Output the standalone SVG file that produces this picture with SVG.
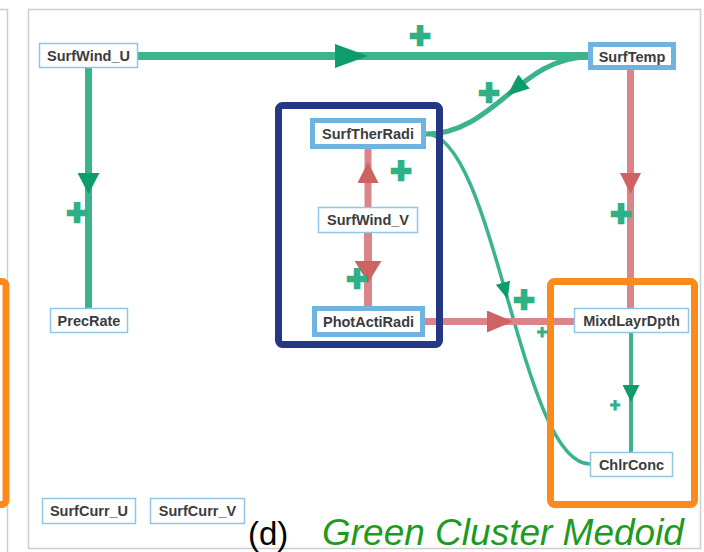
<svg xmlns="http://www.w3.org/2000/svg" width="704" height="552" viewBox="0 0 704 552">
<style>
.frame{fill:none;stroke:#cdcdcd;stroke-width:1.5}
.g{fill:none;stroke:#3bb38d}
.r{fill:none;stroke:#da8589}
.nb{fill:#fff;stroke:#8ec5e8;stroke-width:1.5}
.hb{fill:#fff;stroke:#6fb3e0;stroke-width:5}
.lbl{font-family:"Liberation Sans",Arial,sans-serif;font-weight:bold;font-size:14.5px;fill:#3c3c3c;text-anchor:middle}
.pl{font-family:"Liberation Sans",Arial,sans-serif;font-weight:bold;font-size:36px;fill:#2fb085;stroke:#2fb085;stroke-width:2.5;text-anchor:middle}
.ps{font-family:"Liberation Sans",Arial,sans-serif;font-weight:bold;font-size:18px;fill:#2fb085;stroke:#2fb085;stroke-width:1;text-anchor:middle}
</style>
<defs>
<marker id="mG1" markerUnits="userSpaceOnUse" orient="auto" markerWidth="33" markerHeight="24" refX="33" refY="12"><path d="M0,0 L33,12 L0,24 z" fill="#0e9c6c"/></marker>
<marker id="mG2" markerUnits="userSpaceOnUse" orient="auto" markerWidth="21" markerHeight="22" refX="21" refY="11"><path d="M0,0 L21,11 L0,22 z" fill="#0e9c6c"/></marker>
<marker id="mG3" markerUnits="userSpaceOnUse" orient="auto" markerWidth="22" markerHeight="18" refX="22" refY="9"><path d="M0,0 L22,9 L0,18 z" fill="#0e9c6c"/></marker>
<marker id="mG4" markerUnits="userSpaceOnUse" orient="auto" markerWidth="17" markerHeight="15" refX="17" refY="7.5"><path d="M0,0 L17,7.5 L0,15 z" fill="#0e9c6c"/></marker>
<marker id="mG5" markerUnits="userSpaceOnUse" orient="auto" markerWidth="17" markerHeight="17" refX="17" refY="8.5"><path d="M0,0 L17,8.5 L0,17 z" fill="#0e9c6c"/></marker>
<marker id="mR1" markerUnits="userSpaceOnUse" orient="auto" markerWidth="21" markerHeight="21" refX="21" refY="10.5"><path d="M0,0 L21,10.5 L0,21 z" fill="#cf6263"/></marker>
<marker id="mR2" markerUnits="userSpaceOnUse" orient="auto" markerWidth="22" markerHeight="27" refX="22" refY="13.5"><path d="M0,0 L22,13.5 L0,27 z" fill="#cf6263"/></marker>
<marker id="mR3" markerUnits="userSpaceOnUse" orient="auto" markerWidth="26" markerHeight="22" refX="26" refY="11"><path d="M0,0 L26,11 L0,22 z" fill="#cf6263"/></marker>
</defs>
<rect width="704" height="552" fill="#fff"/>
<path class="frame" d="M0,9.5 H7.5 V552"/>
<rect class="frame" x="28.5" y="9.5" width="672" height="539"/>
<rect x="-100" y="281.5" width="106" height="223" rx="4" fill="none" stroke="#fb8a1c" stroke-width="7"/>
<g id="connectors">
<path class="g" stroke-width="8" d="M138,56 L368,56 L588,56" marker-mid="url(#mG1)"/>
<path class="g" stroke-width="7" d="M88.5,68 L88.5,194 L88.5,308" marker-mid="url(#mG2)"/>
<path class="g" stroke-width="5" d="M588,57 C554,57 530.5,76.25 507,95.5 C483.5,114.75 460,134 426,134" marker-mid="url(#mG3)"/>
<path class="g" stroke-width="3.5" d="M426,134 C460.5,134 484,216.5 507.6,299 C531.25,381.5 555,464 590,464" marker-mid="url(#mG4)"/>
<path class="r" stroke-width="7" d="M630.5,70 L630.5,194 L630.5,308" marker-mid="url(#mR1)"/>
<path class="r" stroke-width="7" d="M368,207 L368,162 L368,149" marker-mid="url(#mR1)"/>
<path class="r" stroke-width="8" d="M368,233 L368,283 L368,306" marker-mid="url(#mR2)"/>
<path class="r" stroke-width="7" d="M425,321.5 L513,321.5 L574,321.5" marker-mid="url(#mR3)"/>
<path class="g" stroke-width="4" d="M631,333 L631,402 L631,452" marker-mid="url(#mG5)"/>
</g>
<rect x="278.5" y="105.5" width="161" height="239" rx="4" fill="none" stroke="#253884" stroke-width="7"/>
<rect x="550.5" y="281.5" width="144" height="223" rx="4" fill="none" stroke="#fb8a1c" stroke-width="7"/>
<g id="SurfWind_U"><rect class="nb" x="39.5" y="43.5" width="98" height="24"/><text class="lbl" x="88.5" y="61">SurfWind_U</text></g>
<g id="SurfTemp"><rect class="hb" x="590.5" y="44.5" width="83" height="23"/><text class="lbl" x="632" y="61.5">SurfTemp</text></g>
<g id="SurfTherRadi"><rect class="hb" x="312.5" y="120.5" width="111" height="26"/><text class="lbl" x="368" y="138.5">SurfTherRadi</text></g>
<g id="SurfWind_V"><rect class="nb" x="318.5" y="207.5" width="99" height="25"/><text class="lbl" x="368" y="225">SurfWind_V</text></g>
<g id="PhotActiRadi"><rect class="hb" x="314.5" y="308.5" width="108" height="26"/><text class="lbl" x="368.5" y="326.5">PhotActiRadi</text></g>
<g id="MixdLayrDpth"><rect class="nb" x="574.5" y="308.5" width="114" height="24"/><text class="lbl" x="631.5" y="326">MixdLayrDpth</text></g>
<g id="ChlrConc"><rect class="nb" x="590.5" y="452.5" width="82" height="24"/><text class="lbl" x="631.5" y="470">ChlrConc</text></g>
<g id="PrecRate"><rect class="nb" x="50.5" y="308.5" width="77" height="24"/><text class="lbl" x="89" y="326">PrecRate</text></g>
<g id="SurfCurr_U"><rect class="nb" x="42.5" y="498.5" width="93" height="25"/><text class="lbl" x="89" y="516">SurfCurr_U</text></g>
<g id="SurfCurr_V"><rect class="nb" x="150.5" y="498.5" width="94" height="25"/><text class="lbl" x="197.5" y="516">SurfCurr_V</text></g>
<g id="signs">
<text class="pl" x="420" y="48">+</text>
<text class="pl" x="489" y="105">+</text>
<text class="pl" x="401" y="183">+</text>
<text class="pl" x="357" y="291">+</text>
<text class="pl" x="77" y="225">+</text>
<text class="pl" x="621" y="226">+</text>
<text class="pl" x="524" y="312">+</text>
<text class="ps" x="542" y="337.5">+</text>
<text class="ps" x="615" y="411">+</text>
</g>
<text x="248" y="545" font-family="Liberation Sans, Arial, sans-serif" font-size="33" fill="#000">(d)</text>
<text x="322" y="545" font-family="Liberation Sans, Arial, sans-serif" font-size="37" font-style="italic" fill="#1f9a20">Green Cluster Medoid</text>
</svg>
